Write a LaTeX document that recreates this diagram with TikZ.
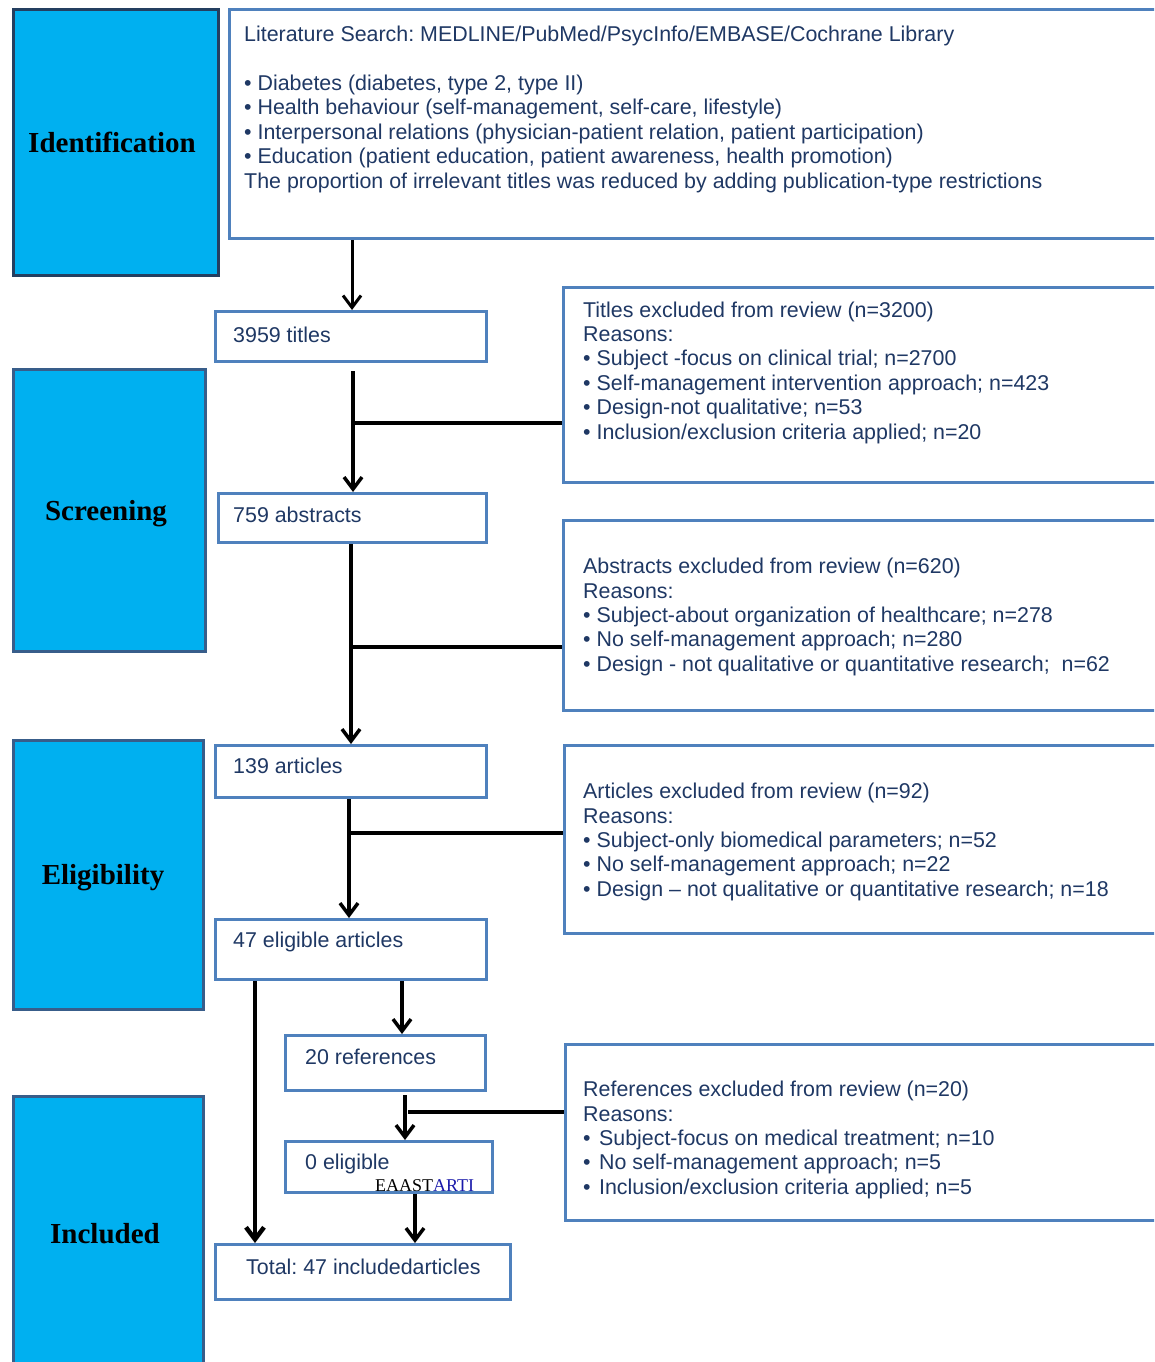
\documentclass[tikz,border=0pt]{standalone}
\usepackage{fontspec}
\setmainfont{Liberation Sans}
\newfontfamily\stagefont{Liberation Serif}
\usetikzlibrary{arrows.meta}
\definecolor{stagefill}{RGB}{0,176,240}
\definecolor{stageline}{RGB}{56,93,138}
\definecolor{stagelinedark}{RGB}{36,63,96}
\definecolor{boxline}{RGB}{79,129,189}
\definecolor{txtc}{RGB}{31,56,100}
\definecolor{markblue}{RGB}{25,25,170}
\frenchspacing
\begin{document}
\begin{tikzpicture}[x=1pt,y=-1pt,
  stagebox/.style={draw=stageline, line width=3pt, fill=stagefill, inner sep=0pt, anchor=north west},
  flowbox/.style={draw=boxline, line width=3pt, fill=white, inner sep=0pt, anchor=north west},
  txt/.style={anchor=north west, inner sep=0pt, align=left, text=txtc, font=\fontsize{21.4}{24.4}\selectfont},
  lbl/.style={anchor=base, inner sep=0pt, font=\stagefont\bfseries\fontsize{29}{34}\selectfont},
  arr/.style={draw=black, line width=3.5pt, -{Straight Barb[length=12pt,width=18pt]}},
  branch/.style={draw=black, line width=3.2pt}]
\useasboundingbox (0,0) rectangle (1154,1362);
\clip (0,0) rectangle (1154,1362);

% stage boxes
\node[stagebox, draw=stagelinedark, minimum width=205pt, minimum height=266pt] (sid) at (12,8) {};
\node[stagebox, minimum width=192pt, minimum height=282pt] (sscr) at (12,368) {};
\node[stagebox, minimum width=190pt, minimum height=269pt] (selig) at (12,739) {};
\node[stagebox, minimum width=190pt, minimum height=300pt] (sinc) at (12,1095) {};
\node[lbl] (lid) at (112,153) {Identification};
\node[lbl] (lscr) at (106,520) {Screening};
\node[lbl] (lelig) at (103,884) {Eligibility};
\node[lbl] (linc) at (105,1243) {Included};

% flow boxes
\node[flowbox, minimum width=960pt, minimum height=229pt] (lit) at (228,8) {};
\node[flowbox, minimum width=271pt, minimum height=50pt] (t3959) at (214,310) {};
\node[flowbox, minimum width=620pt, minimum height=195pt] (texcl) at (562,286) {};
\node[flowbox, minimum width=268pt, minimum height=49pt] (a759) at (217,492) {};
\node[flowbox, minimum width=620pt, minimum height=190pt] (aexcl) at (562,519) {};
\node[flowbox, minimum width=271pt, minimum height=52pt] (a139) at (214,744) {};
\node[flowbox, minimum width=620pt, minimum height=188pt] (arexcl) at (563,744) {};
\node[flowbox, minimum width=271pt, minimum height=60pt] (e47) at (214,918) {};
\node[flowbox, minimum width=200pt, minimum height=55pt] (r20) at (284,1034) {};
\node[flowbox, minimum width=620pt, minimum height=176pt] (rexcl) at (564,1043) {};
\node[flowbox, minimum width=207pt, minimum height=51pt] (e0) at (284,1140) {};
\node[flowbox, minimum width=295pt, minimum height=55pt] (tot) at (214,1243) {};

% texts
\node[txt] (tlit) at (244,24.4) {\strut Literature Search: MEDLINE/PubMed/PsycInfo/EMBASE/Cochrane Library\\[24.4pt]
• Diabetes (diabetes, type 2, type II)\\
• Health behaviour (self-management, self-care, lifestyle)\\
• Interpersonal relations (physician-patient relation, patient participation)\\
• Education (patient education, patient awareness, health promotion)\\
The proportion of irrelevant titles was reduced by adding publication-type restrictions};
\node[txt] (tt3959) at (233,325.6) {\strut 3959 titles};
\node[txt] (ttexcl) at (583,299.9) {\strut Titles excluded from review (n=3200)\\
Reasons:\\
• Subject -focus on clinical trial; n=2700\\
• Self-management intervention approach; n=423\\
• Design-not qualitative; n=53\\
• Inclusion/exclusion criteria applied; n=20};
\node[txt] (ta759) at (233,505.2) {\strut 759 abstracts};
\node[txt] (taexcl) at (583,556.4) {\strut Abstracts excluded from review (n=620)\\
Reasons:\\
• Subject-about organization of healthcare; n=278\\
• No self-management approach; n=280\\
• Design - not qualitative or quantitative research;\ \ n=62};
\node[txt] (ta139) at (233,756.4) {\strut 139 articles};
\node[txt] (tarexcl) at (583,781.4) {\strut Articles excluded from review (n=92)\\
Reasons:\\
• Subject-only biomedical parameters; n=52\\
• No self-management approach; n=22\\
• Design – not qualitative or quantitative research; n=18};
\node[txt] (te47) at (233,930.4) {\strut 47 eligible articles};
\node[txt] (tr20) at (305,1047.4) {\strut 20 references};
\node[txt] (trexcl) at (583,1079.4) {\strut References excluded from review (n=20)\\
Reasons:\\
•\hspace{2.5pt} Subject-focus on medical treatment; n=10\\
•\hspace{2.5pt} No self-management approach; n=5\\
•\hspace{2.5pt} Inclusion/exclusion criteria applied; n=5};
\node[txt] (te0) at (305,1152.4) {\strut 0 eligible};
\node[anchor=base west, inner sep=0pt, font=\stagefont\fontsize{18}{21}\selectfont] (mark) at (375,1191.5) {EAAST\textcolor{markblue}{ARTI}};
\node[txt] (ttot) at (246,1257.4) {\strut Total: 47 includedarticles};

% x positions and junctions
\coordinate (x352) at (352,0);
\coordinate (x353) at (353,0);
\coordinate (x351) at (351,0);
\coordinate (x349) at (349,0);
\coordinate (x255) at (255,0);
\coordinate (x402) at (402,0);
\coordinate (x405) at (405,0);
\coordinate (x415) at (415,0);
\coordinate (j1) at (353,423);
\coordinate (j2) at (351,647);
\coordinate (j3) at (349,833);
\coordinate (j4) at (408,1112);

% connectors
\draw[arr, line width=3pt] (lit.south -| x352) -- (t3959.north -| x352);
\draw[arr, shorten <=8pt] (t3959.south -| x353) -- (a759.north -| x353);
\draw[branch] (j1) -- (texcl.west |- j1);
\draw[arr] (a759.south -| x351) -- (a139.north -| x351);
\draw[branch] (j2) -- (aexcl.west |- j2);
\draw[arr] (a139.south -| x349) -- (e47.north -| x349);
\draw[branch] (j3) -- (arexcl.west |- j3);
\draw[arr, line width=4.5pt] (e47.south -| x255) -- (tot.north -| x255);
\draw[arr] (e47.south -| x402) -- (r20.north -| x402);
\draw[arr, shorten <=3pt] (r20.south -| x405) -- (e0.north -| x405);
\draw[branch] (j4) -- (rexcl.west |- j4);
\draw[arr] (e0.south -| x415) -- (tot.north -| x415);
\end{tikzpicture}
\end{document}
